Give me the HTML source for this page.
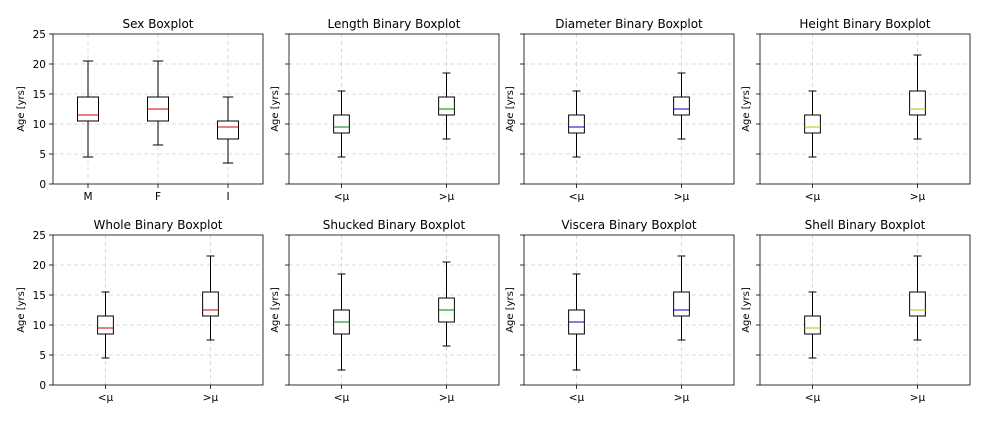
<!DOCTYPE html>
<html><head><meta charset="utf-8"><style>
body{margin:0;background:#fff;width:1008px;height:432px;overflow:hidden}
svg{display:block;font-family:"DejaVu Sans","Liberation Sans",sans-serif}
</style></head><body>
<svg id="c" width="1008" height="432"></svg>
<script>
const titles=["Sex Boxplot","Length Binary Boxplot","Diameter Binary Boxplot","Height Binary Boxplot","Whole Binary Boxplot","Shucked Binary Boxplot","Viscera Binary Boxplot","Shell Binary Boxplot"];
const sexCats=["M","F","I"];
const binCats=["<\u03bc",">\u03bc"];
const medColors=["#d00000","#008000","#0000cc","#bfbf00","#d00000","#008000","#0000cc","#bfbf00"];
const yTicks=[0,5,10,15,20,25];
// each box: [low whisker, q1, median, q3, high whisker]
const sexData=[[4.5,10.5,11.5,14.5,20.5],[6.5,10.5,12.5,14.5,20.5],[3.5,7.5,9.5,10.5,14.5]];
const lengthData=[[4.5,8.5,9.5,11.5,15.5],[7.5,11.5,12.5,14.5,18.5]];
const diameterData=[[4.5,8.5,9.5,11.5,15.5],[7.5,11.5,12.5,14.5,18.5]];
const heightData=[[4.5,8.5,9.5,11.5,15.5],[7.5,11.5,12.5,15.5,21.5]];
const wholeData=[[4.5,8.5,9.5,11.5,15.5],[7.5,11.5,12.5,15.5,21.5]];
const shuckedData=[[2.5,8.5,10.5,12.5,18.5],[6.5,10.5,12.5,14.5,20.5]];
const visceraData=[[2.5,8.5,10.5,12.5,18.5],[7.5,11.5,12.5,15.5,21.5]];
const shellData=[[4.5,8.5,9.5,11.5,15.5],[7.5,11.5,12.5,15.5,21.5]];
const allData=[sexData,lengthData,diameterData,heightData,wholeData,shuckedData,visceraData,shellData];
const NS="http://www.w3.org/2000/svg";
const svg=document.getElementById('c');
function mk(tag,attrs,parent,text){const e=document.createElementNS(NS,tag);for(const k in attrs)e.setAttribute(k,attrs[k]);if(text!==undefined)e.textContent=text;(parent||svg).appendChild(e);return e;}
const colX=[53,289,524,760],rowY=[34,235],W=210,H=150;
allData.forEach((data,i)=>{
  const x0=colX[i%4],y0=rowY[Math.floor(i/4)];
  const cats=i===0?sexCats:binCats;
  const n=cats.length;
  const g=mk('g',{});
  
  
  const unit=W/n; // xlim 0.5..n+0.5
  const xs=k=>x0+(k+0.5)*unit;
  const ys=v=>y0+H-v/25*H;
  const bw=(n===3?0.3:0.15)*unit;
  // grid
  yTicks.forEach(t=>{
    if(t>0&&t<25)mk('line',{x1:x0,x2:x0+W,y1:ys(t),y2:ys(t),stroke:'#d0d0d0','stroke-dasharray':'4,3','stroke-width':0.8},g);
    mk('line',{x1:x0-4,x2:x0,y1:ys(t),y2:ys(t),stroke:'#000','stroke-width':0.8},g);
    if(i%4===0){const tl=mk('text',{x:x0-7,y:ys(t)+4,'text-anchor':'end','font-size':10.5,fill:'#000'},g,String(t));
      }
  });
  cats.forEach((c,k)=>{
    mk('line',{x1:xs(k),x2:xs(k),y1:y0,y2:y0+H,stroke:'#d0d0d0','stroke-dasharray':'4,3','stroke-width':0.8},g);
    mk('line',{x1:xs(k),x2:xs(k),y1:y0+H,y2:y0+H+4,stroke:'#000','stroke-width':0.8},g);
    const xl=mk('text',{x:xs(k),y:y0+H+16,'text-anchor':'middle','font-size':10.5,fill:'#000'},g,c);
    
  });
  // boxes
  data.forEach((d,k)=>{
    const cx=xs(k);
    const bg=mk('g',{},g);
    
    
    mk('line',{x1:cx,x2:cx,y1:ys(d[0]),y2:ys(d[1]),stroke:'#000','stroke-width':1},bg);
    mk('line',{x1:cx,x2:cx,y1:ys(d[3]),y2:ys(d[4]),stroke:'#000','stroke-width':1},bg);
    mk('line',{x1:cx-bw/4,x2:cx+bw/4,y1:ys(d[0]),y2:ys(d[0]),stroke:'#000','stroke-width':1},bg);
    mk('line',{x1:cx-bw/4,x2:cx+bw/4,y1:ys(d[4]),y2:ys(d[4]),stroke:'#000','stroke-width':1},bg);
    mk('rect',{x:cx-bw/2,y:ys(d[3]),width:bw,height:ys(d[1])-ys(d[3]),fill:'#fff',stroke:'#000','stroke-width':1},bg);
    mk('line',{x1:cx-bw/2,x2:cx+bw/2,y1:ys(d[2]),y2:ys(d[2]),stroke:medColors[i],'stroke-width':1},bg);
  });
  mk('rect',{x:x0,y:y0,width:W,height:H,fill:'none',stroke:'#000','stroke-width':0.8},g);
  const t=mk('text',{x:x0+W/2,y:y0-6,'text-anchor':'middle','font-size':12,fill:'#000'},g,titles[i]);
  
  const lx=i%4===0?x0-29:x0-11;
  const yl=mk('text',{x:lx,y:y0+H/2,'text-anchor':'middle','font-size':10,fill:'#000',transform:`rotate(-90 ${lx} ${y0+H/2})`},g,'Age [yrs]');
  
});
</script>
</body></html>
